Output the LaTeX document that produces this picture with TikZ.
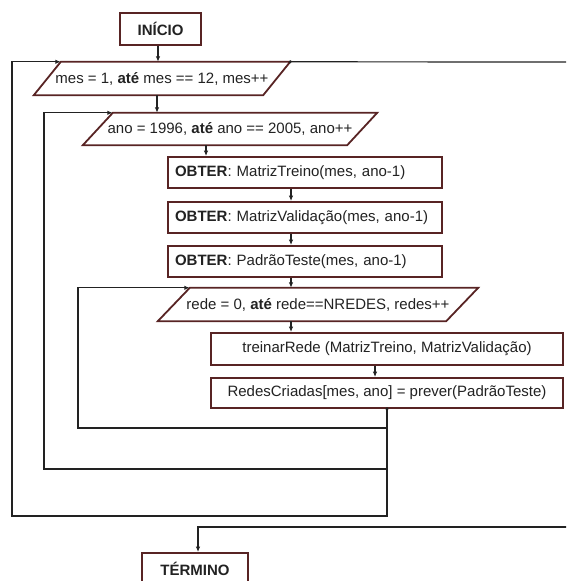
\documentclass[tikz,border=0pt]{standalone}
\usepackage{fontspec}
\setmainfont{Liberation Sans}
\usetikzlibrary{arrows.meta}
\definecolor{boxline}{RGB}{88,36,36}
\definecolor{ink}{RGB}{34,34,34}
\newcommand{\flowfont}{\fontsize{15}{18}\selectfont}
\begin{document}
\begin{tikzpicture}[x=1pt,y=-1pt,
  procbox/.style={draw=boxline, line width=1.8pt, fill=white, inner sep=0pt,
                  font=\flowfont, text=ink},
  leftbox/.style={procbox, text width=260pt, align=left, inner xsep=7pt,
                  minimum height=31pt},
  iobox/.style={inner sep=0pt, font=\flowfont, text=ink},
  ioedge/.style={draw=boxline, line width=1.8pt, line join=miter},
  flow/.style={draw=ink, line width=1.2pt},
  arr/.style={flow, -{Latex[length=5.5pt,width=4.5pt]}},
  junction/.style={fill=ink}]
\useasboundingbox (0,0) rectangle (566,581);
\clip (0,0) rectangle (566,581);

% terminals
\node[procbox, minimum width=81pt, minimum height=32pt] (inicio) at (160.5,29) {\textbf{INÍCIO}};
\node[procbox, minimum width=106pt, minimum height=31pt] (termino) at (195,568.5) {\textbf{TÉRMINO}};

% loop headers (parallelograms)
\node[iobox, minimum width=256pt, minimum height=33pt] (mes) at (162,78.5)
  {mes = 1, \textbf{até} mes == 12, mes++};
\draw[ioedge] ([xshift=27pt]mes.north west) -- (mes.north east)
  -- ([xshift=-27pt]mes.south east) -- (mes.south west) -- cycle;

\node[iobox, minimum width=294pt, minimum height=32pt] (ano) at (230,129)
  {ano = 1996, \textbf{até} ano == 2005, ano++};
\draw[ioedge] ([xshift=30pt]ano.north west) -- (ano.north east)
  -- ([xshift=-30pt]ano.south east) -- (ano.south west) -- cycle;

\node[iobox, minimum width=320pt, minimum height=33pt] (rede) at (318,304.5)
  {rede = 0, \textbf{até} rede==NREDES, redes++};
\draw[ioedge] ([xshift=32pt]rede.north west) -- (rede.north east)
  -- ([xshift=-32pt]rede.south east) -- (rede.south west) -- cycle;

% process steps
\node[leftbox] (treino) at (305,172.5) {\textbf{OBTER}: MatrizTreino(mes, ano-1)};
\node[leftbox] (valid)  at (305,217.5) {\textbf{OBTER}: MatrizValidação(mes, ano-1)};
\node[leftbox] (padrao) at (305,261.5) {\textbf{OBTER}: PadrãoTeste(mes, ano-1)};
\node[procbox, minimum width=352pt, minimum height=32pt] (treinar) at (387,349)
  {treinarRede (MatrizTreino, MatrizValidação)};
\node[procbox, minimum width=352pt, minimum height=30pt] (redes) at (387,393)
  {RedesCriadas[mes, ano] = prever(PadrãoTeste)};

% connector columns and loop levels
\coordinate (colA) at (206,0);
\coordinate (colB) at (291,0);
\coordinate (colC) at (375,0);
\coordinate (rinner) at (78,428);
\coordinate (rmid) at (44,469);
\coordinate (router) at (12,516);
\coordinate (exitout) at (570,62);
\coordinate (exitin) at (570,527);

% forward flow
\draw[arr] ([xshift=-2.5pt]inicio.south) -- ([xshift=-2.5pt]inicio.south |- mes.north);
\draw[arr] ([xshift=-5pt]mes.south) -- ([xshift=-5pt]mes.south |- ano.north);
\draw[arr] (colA |- ano.south) -- (colA |- treino.north);
\draw[arr] (colB |- treino.south) -- (colB |- valid.north);
\draw[arr] (colB |- valid.south) -- (colB |- padrao.north);
\draw[arr] (colB |- padrao.south) -- (colB |- rede.north);
\draw[arr] (colB |- rede.south) -- (colB |- treinar.north);
\draw[arr] (colC |- treinar.south) -- (colC |- redes.north);

% loop returns
\fill[junction] (redes.south) circle (1.7pt);
\draw[arr] (redes.south) |- (router) |- ([xshift=27pt]mes.north west);
\draw[arr] (redes.south |- rmid) -- (rmid) |- ([xshift=30pt]ano.north west);
\draw[arr] (redes.south |- rinner) -- (rinner) |- ([xshift=32pt]rede.north west);

% loop exit
\fill[junction] (mes.north east) circle (1.7pt);
\draw[flow] (mes.north east) -- (exitout);
\draw[arr] (exitin) -| ([xshift=3pt]termino.north);
\end{tikzpicture}
\end{document}
